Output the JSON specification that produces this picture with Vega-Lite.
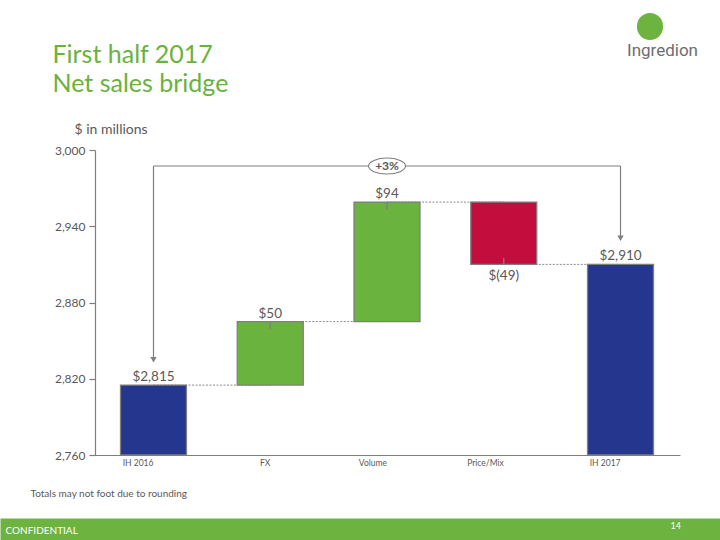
{
  "$schema": "https://vega.github.io/schema/vega-lite/v6.json",
  "width": 720,
  "height": 540,
  "autosize": {"type": "none"},
  "padding": 0,
  "background": "white",
  "config": {"view": {"stroke": null}, "font": "Lato"},
  "datasets": {
    "steps": [
      {"step": "IH 2016", "start": 2760, "end": 2815, "kind": "total", "label": "$2,815"},
      {"step": "FX", "start": 2815, "end": 2865, "kind": "increase", "label": "$50"},
      {"step": "Volume", "start": 2865, "end": 2959, "kind": "increase", "label": "$94"},
      {"step": "Price/Mix", "start": 2959, "end": 2910, "kind": "decrease", "label": "$(49)"},
      {"step": "IH 2017", "start": 2760, "end": 2910, "kind": "total", "label": "$2,910"}
    ],
    "links": [
      {"from": "IH 2016", "to": "FX", "level": 2815},
      {"from": "FX", "to": "Volume", "level": 2865},
      {"from": "Volume", "to": "Price/Mix", "level": 2959},
      {"from": "Price/Mix", "to": "IH 2017", "level": 2910}
    ],
    "bracket": [
      {"from": "IH 2016", "to": "IH 2017", "mid": "Volume", "change": "+3%"}
    ]
  },
  "layer": [
    {
      "layer": [
        {
          "data": {"name": "links"},
          "mark": {"type": "rule", "color": "#8c8c8c", "strokeWidth": 1, "strokeDash": [2, 1.5]},
          "encoding": {
            "x": {"field": "from", "type": "nominal", "sort": null, "scale": {"domain": ["IH 2016", "FX", "Volume", "Price/Mix", "IH 2017"]}},
            "x2": {"field": "to"},
            "y": {"field": "level", "type": "quantitative"}
          }
        },
        {
          "data": {"name": "bracket"},
          "mark": {"type": "rule", "color": "#7f7f7f", "strokeWidth": 1.2},
          "encoding": {
            "x": {"field": "from", "type": "nominal", "sort": null, "scale": {"domain": ["IH 2016", "FX", "Volume", "Price/Mix", "IH 2017"]}},
            "x2": {"field": "to"},
            "y": {"datum": 2987.4, "type": "quantitative"}
          }
        },
        {
          "data": {"name": "bracket"},
          "mark": {"type": "rule", "color": "#7f7f7f", "strokeWidth": 1.2},
          "encoding": {
            "x": {"field": "from", "type": "nominal", "sort": null, "scale": {"domain": ["IH 2016", "FX", "Volume", "Price/Mix", "IH 2017"]}},
            "y": {"datum": 2987.4, "type": "quantitative"},
            "y2": {"datum": 2837}
          }
        },
        {
          "data": {"name": "bracket"},
          "mark": {"type": "rule", "color": "#7f7f7f", "strokeWidth": 1.2},
          "encoding": {
            "x": {"field": "to", "type": "nominal", "sort": null, "scale": {"domain": ["IH 2016", "FX", "Volume", "Price/Mix", "IH 2017"]}},
            "y": {"datum": 2987.4, "type": "quantitative"},
            "y2": {"datum": 2932}
          }
        },
        {
          "data": {"name": "bracket"},
          "mark": {"type": "point", "shape": "triangle-down", "filled": true, "color": "#7f7f7f", "size": 40, "opacity": 1},
          "encoding": {
            "x": {"field": "from", "type": "nominal", "sort": null, "scale": {"domain": ["IH 2016", "FX", "Volume", "Price/Mix", "IH 2017"]}},
            "y": {"datum": 2835, "type": "quantitative"}
          }
        },
        {
          "data": {"name": "bracket"},
          "mark": {"type": "point", "shape": "triangle-down", "filled": true, "color": "#7f7f7f", "size": 40, "opacity": 1},
          "encoding": {
            "x": {"field": "to", "type": "nominal", "sort": null, "scale": {"domain": ["IH 2016", "FX", "Volume", "Price/Mix", "IH 2017"]}},
            "y": {"datum": 2930.5, "type": "quantitative"}
          }
        },
        {
          "data": {"name": "steps"},
          "mark": {"type": "bar", "stroke": "#7f7f7f", "strokeWidth": 1.3},
          "encoding": {
            "x": {
              "field": "step", "type": "nominal", "sort": null,
              "scale": {"domain": ["IH 2016", "FX", "Volume", "Price/Mix", "IH 2017"], "range": [94, 680], "paddingInner": 0.435, "paddingOuter": 0.227},
              "axis": {
                "orient": "bottom", "offset": -85, "domainColor": "#7f7f7f", "domainWidth": 1.2,
                "ticks": false, "tickSize": 0, "grid": false,
                "labelAngle": 0, "labelFontSize": 8.5, "labelColor": "#595959", "labelPadding": 7,
                "title": "Totals may not foot due to rounding",
                "titleX": 30, "titleY": 38, "titleAlign": "left", "titleAnchor": "start", "titleBaseline": "middle",
                "titleFontSize": 10, "titleFontWeight": "normal", "titleColor": "#595959"
              }
            },
            "y": {
              "field": "start", "type": "quantitative",
              "scale": {"domain": [2760, 3000], "range": [455, 150], "nice": false, "zero": false},
              "axis": {
                "orient": "left", "offset": -95, "values": [2760, 2820, 2880, 2940, 3000], "format": ",.0f",
                "tickSize": 6, "tickColor": "#7f7f7f", "domainColor": "#7f7f7f", "domainWidth": 1.2, "tickWidth": 1.2,
                "labelColor": "#595959", "labelFontSize": 12, "labelPadding": 4, "grid": false,
                "title": "$ in millions", "titleAngle": 0, "titleAlign": "left", "titleBaseline": "alphabetic",
                "titleX": -21, "titleY": 133, "titleFontSize": 14, "titleFontWeight": "normal", "titleColor": "#595959"
              }
            },
            "y2": {"field": "end"},
            "color": {
              "field": "kind", "type": "nominal",
              "scale": {"domain": ["total", "increase", "decrease"], "range": ["#25368E", "#6BB33F", "#C30D3D"]},
              "legend": null
            }
          }
        },
        {
          "data": {"name": "steps"},
          "transform": [{"filter": "datum.kind == 'increase'"}],
          "mark": {"type": "point", "shape": "M0,-1L0,1", "filled": false, "stroke": "#7f7f7f", "strokeWidth": 1.3, "size": 49, "yOffset": 4, "opacity": 1},
          "encoding": {
            "x": {"field": "step", "type": "nominal", "sort": null, "scale": {"domain": ["IH 2016", "FX", "Volume", "Price/Mix", "IH 2017"]}},
            "y": {"field": "end", "type": "quantitative"}
          }
        },
        {
          "data": {"name": "steps"},
          "transform": [{"filter": "datum.kind == 'decrease'"}],
          "mark": {"type": "point", "shape": "M0,-1L0,1", "filled": false, "stroke": "#7f7f7f", "strokeWidth": 1.3, "size": 49, "yOffset": -3, "opacity": 1},
          "encoding": {
            "x": {"field": "step", "type": "nominal", "sort": null, "scale": {"domain": ["IH 2016", "FX", "Volume", "Price/Mix", "IH 2017"]}},
            "y": {"field": "end", "type": "quantitative"}
          }
        },
        {
          "data": {"name": "steps"},
          "transform": [{"filter": "datum.kind != 'decrease'"}],
          "mark": {"type": "text", "baseline": "alphabetic", "dy": -4, "fontSize": 13.5, "color": "#595959"},
          "encoding": {
            "x": {"field": "step", "type": "nominal", "sort": null, "scale": {"domain": ["IH 2016", "FX", "Volume", "Price/Mix", "IH 2017"]}},
            "y": {"field": "end", "type": "quantitative"},
            "text": {"field": "label"}
          }
        },
        {
          "data": {"name": "steps"},
          "transform": [{"filter": "datum.kind == 'decrease'"}],
          "mark": {"type": "text", "baseline": "top", "dy": 5, "fontSize": 13.5, "color": "#595959"},
          "encoding": {
            "x": {"field": "step", "type": "nominal", "sort": null, "scale": {"domain": ["IH 2016", "FX", "Volume", "Price/Mix", "IH 2017"]}},
            "y": {"field": "end", "type": "quantitative"},
            "text": {"field": "label"}
          }
        },
        {
          "data": {"name": "bracket"},
          "mark": {"type": "point", "shape": "M-1,0A1,0.43,0,1,0,1,0A1,0.43,0,1,0,-1,0Z", "filled": true, "fill": "white", "stroke": "#7f7f7f", "strokeWidth": 1.1, "size": 1369, "opacity": 1},
          "encoding": {
            "x": {"field": "mid", "type": "nominal", "sort": null, "scale": {"domain": ["IH 2016", "FX", "Volume", "Price/Mix", "IH 2017"]}},
            "y": {"datum": 2987.4, "type": "quantitative"}
          }
        },
        {
          "data": {"name": "bracket"},
          "mark": {"type": "text", "baseline": "middle", "fontSize": 12, "fontWeight": "bold", "color": "#595959"},
          "encoding": {
            "x": {"field": "mid", "type": "nominal", "sort": null, "scale": {"domain": ["IH 2016", "FX", "Volume", "Price/Mix", "IH 2017"]}},
            "y": {"datum": 2987.4, "type": "quantitative"},
            "text": {"field": "change"}
          }
        }
      ]
    },
    {
      "data": {"values": [{"page": 14}]},
      "mark": {"type": "point", "opacity": 0},
      "encoding": {
        "x": {
          "field": "page", "type": "quantitative",
          "scale": {"domain": [0, 14.93], "nice": false, "zero": false},
          "axis": {
            "orient": "bottom", "offset": -11, "domainColor": "#6DB33F", "domainWidth": 22,
            "ticks": false, "labels": false, "grid": false,
            "title": "CONFIDENTIAL", "titleX": 5, "titleY": 1, "titleAlign": "left", "titleAnchor": "start",
            "titleBaseline": "middle", "titleColor": "white", "titleFontSize": 10, "titleFontWeight": "normal"
          }
        },
        "y": {
          "field": "page", "type": "quantitative",
          "scale": {"domain": [0, 1], "nice": false},
          "axis": {
            "orient": "right", "domain": false, "ticks": false, "labels": false, "grid": false,
            "title": "Ingredion", "titleAngle": 0, "titleX": -58, "titleY": 55, "titleAlign": "center",
            "titleBaseline": "alphabetic", "titleFont": "Roboto", "titleFontSize": 17, "titleFontWeight": "normal",
            "titleColor": "#6d6e71"
          }
        }
      }
    },
    {
      "data": {"values": [{"page": 14}]},
      "mark": {"type": "point", "opacity": 0},
      "encoding": {
        "x": {
          "field": "page", "type": "quantitative",
          "scale": {"domain": [0, 14.93], "nice": false, "zero": false},
          "axis": {
            "orient": "bottom", "offset": -11, "domain": false, "ticks": false, "tickSize": 0, "grid": false,
            "values": [14], "format": "d",
            "labelColor": "white", "labelFontSize": 9, "labelBaseline": "middle", "labelPadding": -4,
            "labelFlush": false, "labelBound": false, "labelOverlap": false,
            "title": ["First half 2017", "Net sales bridge"], "titleX": 52, "titleY": -467,
            "titleAlign": "left", "titleAnchor": "start", "titleBaseline": "alphabetic", "titleLineHeight": 29,
            "titleFontSize": 25, "titleFontWeight": "normal", "titleColor": "#6AB23E"
          }
        },
        "y": {
          "field": "page", "type": "quantitative",
          "scale": {"domain": [0, 1], "range": [26.5, 25.5], "nice": false},
          "axis": {
            "orient": "left", "offset": -649.5, "domain": true, "domainColor": "#6DB33F", "domainWidth": 26,
            "domainCap": "round", "ticks": false, "labels": false, "grid": false, "title": null
          }
        }
      }
    }
  ],
  "resolve": {"scale": {"x": "independent", "y": "independent"}}
}
